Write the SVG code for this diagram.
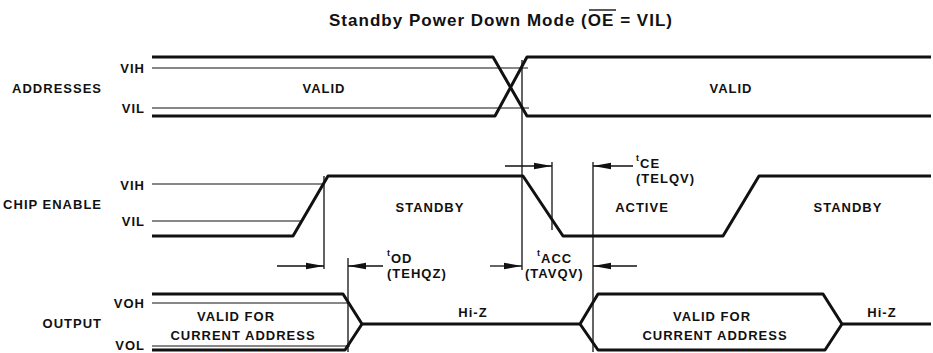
<svg xmlns="http://www.w3.org/2000/svg" width="933" height="353" viewBox="0 0 933 353">
<style>
  text { font-family: "Liberation Sans", Arial, sans-serif; font-weight: bold; fill: #111; }
  .lbl { font-size: 13px; letter-spacing: 1px; }
  .lv { font-size: 13px; letter-spacing: 1px; text-anchor: end; }
  .mid { font-size: 13px; letter-spacing: 1px; text-anchor: middle; }
  .sub { font-size: 9px; }
  .title { font-size: 17px; }
  .sig { fill: none; stroke: #111; stroke-width: 3; stroke-linejoin: round; }
  .ref { fill: none; stroke: #111; stroke-width: 1.2; }
  .tim { fill: none; stroke: #111; stroke-width: 1.3; }
</style>
<defs>
  <marker id="ah" markerUnits="userSpaceOnUse" markerWidth="18" markerHeight="8" refX="18" refY="4" orient="auto">
    <path d="M0,0.8 L18,4 L0,7.2 z" fill="#111"/>
  </marker>
</defs>
<rect width="933" height="353" fill="#fff"/>

<g id="title">
  <text class="title" x="329" y="26" textLength="343" lengthAdjust="spacing">Standby Power Down Mode (OE = VIL)</text>
  <line x1="589" y1="10" x2="616" y2="10" stroke="#111" stroke-width="1.4"/>
</g>

<g id="addresses">
  <text class="lv" x="102" y="93">ADDRESSES</text>
  <text class="lv" x="145" y="73">VIH</text>
  <text class="lv" x="145" y="113">VIL</text>
  <line class="ref" x1="152" y1="68" x2="528" y2="68"/>
  <line class="ref" x1="152" y1="108" x2="529" y2="108"/>
  <polyline class="sig" points="152,57 493,57 527,116 931,116"/>
  <polyline class="sig" points="152,116 495,116 527,57 931,57"/>
  <text class="mid" x="324" y="93">VALID</text>
  <text class="mid" x="731" y="93">VALID</text>
</g>

<g id="chip-enable">
  <text class="lv" x="102" y="209">CHIP ENABLE</text>
  <text class="lv" x="145" y="190">VIH</text>
  <text class="lv" x="145" y="226">VIL</text>
  <line class="ref" x1="152" y1="184" x2="322" y2="184"/>
  <line class="ref" x1="152" y1="221" x2="302" y2="221"/>
  <polyline class="sig" points="152,236 293,236 328,176 523,176 563,236 723,236 759,176 931,176"/>
  <text class="mid" x="430" y="212">STANDBY</text>
  <text class="mid" x="642" y="212">ACTIVE</text>
  <text class="mid" x="848" y="212">STANDBY</text>
</g>

<g id="output">
  <text class="lv" x="102" y="328">OUTPUT</text>
  <text class="lv" x="145" y="308">VOH</text>
  <text class="lv" x="145" y="350">VOL</text>
  <line class="ref" x1="152" y1="303" x2="350" y2="303"/>
  <line class="ref" x1="152" y1="346" x2="350" y2="346"/>
  <polyline class="sig" points="152,294 343,294 362,324 580,324 598,294 823,294 842,324 931,324"/>
  <polyline class="sig" points="152,350 345,350 362,324"/>
  <polyline class="sig" points="580,324 598,350 825,350 842,324"/>
  <text class="mid" x="236" y="321">VALID FOR</text>
  <text class="mid" x="243" y="340">CURRENT ADDRESS</text>
  <text class="mid" x="473" y="317">Hi-Z</text>
  <text class="mid" x="712" y="321">VALID FOR</text>
  <text class="mid" x="715" y="340">CURRENT ADDRESS</text>
  <text class="mid" x="882" y="317">Hi-Z</text>
</g>

<g id="connectors">
  <line class="tim" x1="522" y1="60" x2="522" y2="270"/>
  <line class="tim" x1="324" y1="176" x2="324" y2="269"/>
  <line class="tim" x1="348" y1="258" x2="348" y2="352"/>
  <line class="tim" x1="552" y1="162" x2="552" y2="230"/>
  <line class="tim" x1="593" y1="162" x2="593" y2="352"/>
  <line class="tim" x1="277" y1="266" x2="324" y2="266" marker-end="url(#ah)"/>
  <line class="tim" x1="383" y1="266" x2="348" y2="266" marker-end="url(#ah)"/>
  <line class="tim" x1="490" y1="266" x2="522" y2="266" marker-end="url(#ah)"/>
  <line class="tim" x1="637" y1="266" x2="593" y2="266" marker-end="url(#ah)"/>
  <line class="tim" x1="505" y1="166" x2="552" y2="166" marker-end="url(#ah)"/>
  <line class="tim" x1="633" y1="166" x2="593" y2="166" marker-end="url(#ah)"/>
</g>

<g id="timing-labels">
  <text class="lbl" x="387" y="256"><tspan class="sub">t</tspan><tspan dy="7">OD</tspan></text>
  <text class="lbl" x="387" y="278">(TEHQZ)</text>
  <text class="lbl" x="537" y="256"><tspan class="sub">t</tspan><tspan dy="7">ACC</tspan></text>
  <text class="lbl" x="525" y="278">(TAVQV)</text>
  <text class="lbl" x="636" y="161"><tspan class="sub">t</tspan><tspan dy="7">CE</tspan></text>
  <text class="lbl" x="636" y="183">(TELQV)</text>
</g>
</svg>
